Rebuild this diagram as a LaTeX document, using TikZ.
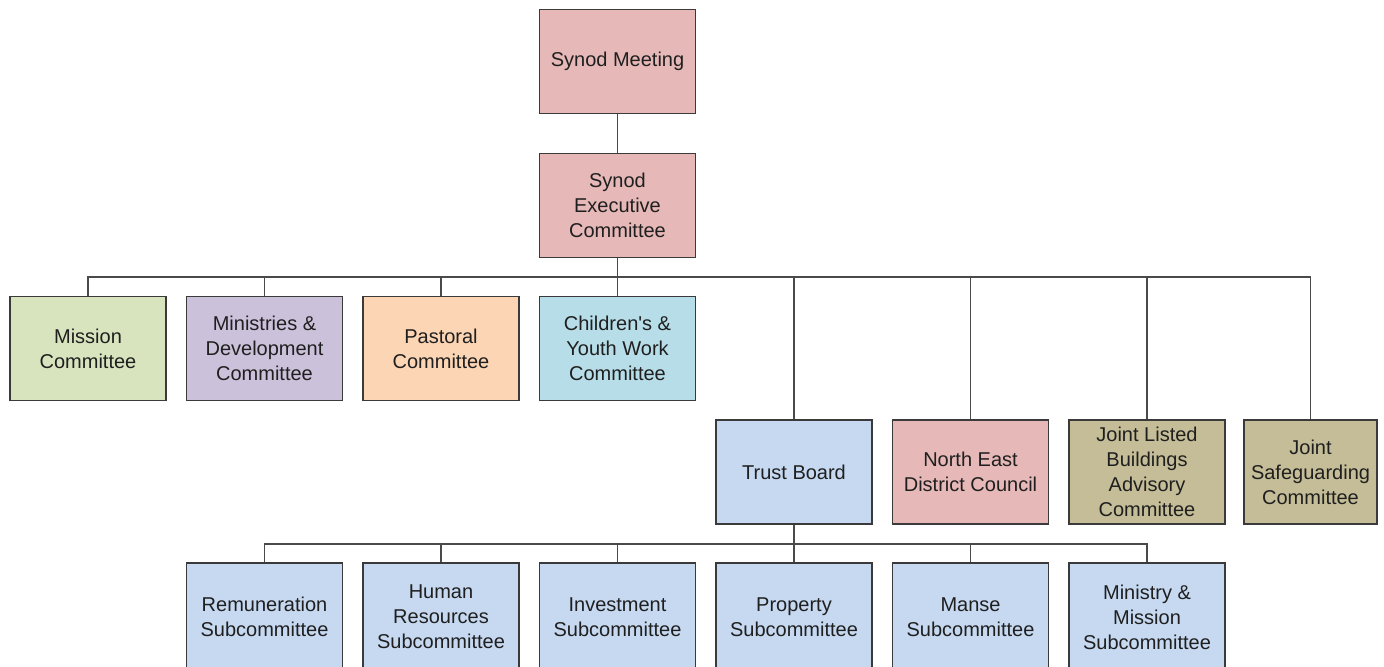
\documentclass[tikz,border=0pt]{standalone}
\usepackage{fontspec}
\setmainfont{Liberation Sans}
\definecolor{cpink}{HTML}{E6B9B8}
\definecolor{cgreen}{HTML}{D7E4BD}
\definecolor{cpurple}{HTML}{CCC1DA}
\definecolor{cpeach}{HTML}{FCD5B5}
\definecolor{caqua}{HTML}{B7DEE8}
\definecolor{cblue}{HTML}{C6D9F1}
\definecolor{ctan}{HTML}{C4BD97}
\definecolor{boxline}{HTML}{3A3A3A}
\definecolor{linkgray}{HTML}{4A4A4A}
\tikzset{
  box/.style={draw=boxline, line width=0.6pt, minimum width=78pt, minimum height=52pt,
    inner sep=0pt, align=center, text=black!88, font=\fontsize{10}{12.5}\selectfont},
  link/.style={draw=linkgray, line width=0.7pt}
}
\begin{document}
\begin{tikzpicture}[x=0.5pt,y=-0.5pt]
\useasboundingbox (0,0) rectangle (1384,666);
% top of the tree
\node[box,fill=cpink] (meeting) at (617.5,61.5) {Synod Meeting};
\node[box,fill=cpink] (exec) at (617.5,205.5) {Synod\\Executive\\Committee};
\coordinate (bus) at (617.5,277);
\coordinate (tbus) at (794,544);
% committees
\foreach \nm/\x/\c/\t in {mission/88/cgreen/{Mission\\Committee},
  ministries/264.5/cpurple/{Ministries \&\\Development\\Committee},
  pastoral/441/cpeach/{Pastoral\\Committee},
  youth/617.5/caqua/{Children\textquotesingle s \&\\Youth Work\\Committee}}
{\node[box,fill=\c] (\nm) at (\x,348.5) {\t};}
\foreach \nm/\x/\c/\t in {trust/794/cblue/{Trust Board},
  northeast/970.5/cpink/{North East\\District Council},
  listed/1147/ctan/{Joint Listed\\Buildings\\Advisory\\Committee}}
{\node[box,fill=\c] (\nm) at (\x,472) {\t};}
\node[box,fill=ctan,minimum width=66.5pt] (safeguard) at (1310.5,472) {Joint\\Safeguarding\\Committee};
% subcommittees, cut off at the lower edge
\foreach \nm/\x/\t in {remuneration/264.5/{Remuneration\\Subcommittee},
  hr/441/{Human\\Resources\\Subcommittee},
  investment/617.5/{Investment\\Subcommittee},
  property/794/{Property\\Subcommittee},
  manse/970.5/{Manse\\Subcommittee},
  minmission/1147/{Ministry \&\\Mission\\Subcommittee}}
{\node[box,fill=cblue,minimum height=54pt] (\nm) at (\x,617) {\t};}
% connectors
\draw[link] (meeting) -- (exec);
\draw[link] (exec) -- (bus);
\foreach \nm in {mission,ministries,pastoral,youth,trust,northeast,listed,safeguard}
{\draw[link] (bus) -| (\nm.north);}
\draw[link] (trust) -- (tbus);
\foreach \nm in {remuneration,hr,investment,property,manse,minmission}
{\draw[link] (tbus) -| (\nm.north);}
\end{tikzpicture}
\end{document}
